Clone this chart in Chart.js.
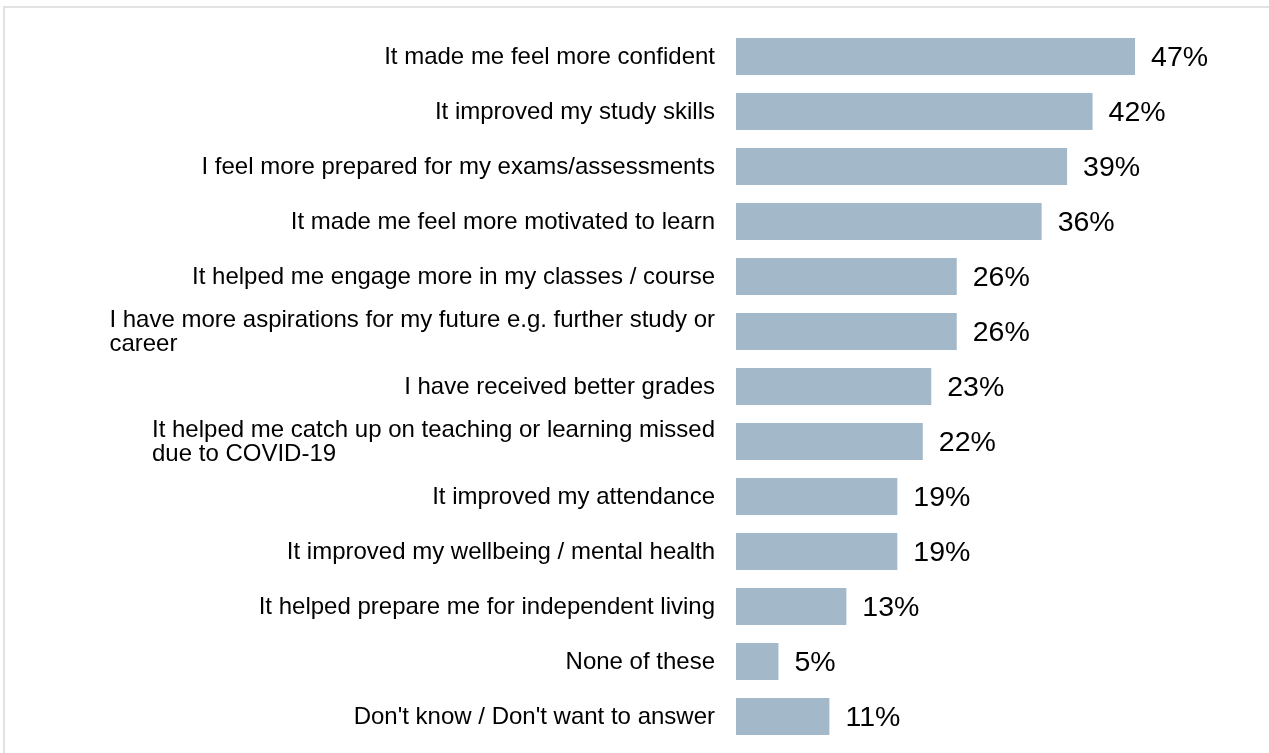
<!DOCTYPE html>
<html>
<head>
<meta charset="utf-8">
<script src="https://cdn.jsdelivr.net/npm/chart.js@4/dist/chart.umd.min.js"></script>
<style>
  html, body { margin: 0; padding: 0; background: #fff; }
  #wrap { position: relative; width: 1269px; height: 753px; overflow: hidden; }
  #frame {
    position: absolute; left: 3px; top: 6px; width: 1280px; height: 760px;
    border-top: 2px solid #e2e2e2; border-left: 2px solid #e2e2e2;
    box-sizing: border-box; pointer-events: none;
  }
  canvas { position: absolute; left: 0; top: 0; }
</style>
</head>
<body>
<div id="wrap">
  <canvas id="chart" width="1269" height="753"></canvas>
  <div id="frame"></div>
</div>
<script>
// Survey answers (each label may be split over several lines)
const categories = [
  ["It made me feel more confident"],
  ["It improved my study skills"],
  ["I feel more prepared for my exams/assessments"],
  ["It made me feel more motivated to learn"],
  ["It helped me engage more in my classes / course"],
  ["I have more aspirations for my future e.g. further study or", "career"],
  ["I have received better grades"],
  ["It helped me catch up on teaching or learning missed", "due to COVID-19"],
  ["It improved my attendance"],
  ["It improved my wellbeing / mental health"],
  ["It helped prepare me for independent living"],
  ["None of these"],
  ["Don't know / Don't want to answer"]
];

// Share of respondents, in percent
const percentages = [47, 42, 39, 36, 26, 26, 23, 22, 19, 19, 13, 5, 11];

const barColor = "#a3b9c9";
const labelFont = "24px 'Liberation Sans', Arial, sans-serif";
const valueFont = "28.5px 'Liberation Sans', Arial, sans-serif";

// Category labels: block right-aligned against the bars, lines left-aligned inside it
const categoryLabels = {
  id: "categoryLabels",
  afterDraw(chart) {
    const ctx = chart.ctx;
    const y = chart.scales.y;
    const rightEdge = chart.chartArea.left - 21;
    const lineH = 24;
    ctx.save();
    ctx.font = labelFont;
    ctx.fillStyle = "#000";
    ctx.textBaseline = "middle";
    ctx.textAlign = "left";
    categories.forEach((lines, i) => {
      const cy = y.getPixelForValue(i);
      const w = Math.max(...lines.map(l => ctx.measureText(l).width));
      const x0 = rightEdge - w;
      const top = cy + 1 - (lines.length - 1) * lineH / 2;
      lines.forEach((l, k) => ctx.fillText(l, x0, top + k * lineH));
    });
    ctx.restore();
  }
};

// Percentage labels to the right of each bar
const valueLabels = {
  id: "valueLabels",
  afterDatasetsDraw(chart) {
    const ctx = chart.ctx;
    const meta = chart.getDatasetMeta(0);
    ctx.save();
    ctx.font = valueFont;
    ctx.fillStyle = "#000";
    ctx.textBaseline = "middle";
    ctx.textAlign = "left";
    meta.data.forEach((bar, i) => {
      ctx.fillText(percentages[i] + "%", bar.x + 16, bar.y + 1.5);
    });
    ctx.restore();
  }
};

new Chart(document.getElementById("chart"), {
  type: "bar",
  data: {
    labels: categories,
    datasets: [{
      data: percentages,
      backgroundColor: barColor,
      borderWidth: 0,
      barPercentage: 0.673,
      categoryPercentage: 1.0
    }]
  },
  options: {
    indexAxis: "y",
    responsive: false,
    animation: false,
    layout: { padding: { left: 736, right: 108.5, top: 29, bottom: 9 } },
    plugins: { legend: { display: false }, tooltip: { enabled: false } },
    scales: {
      x: { display: false, min: 0, max: 50 },
      y: { display: false }
    }
  },
  plugins: [categoryLabels, valueLabels]
});
</script>
</body>
</html>
